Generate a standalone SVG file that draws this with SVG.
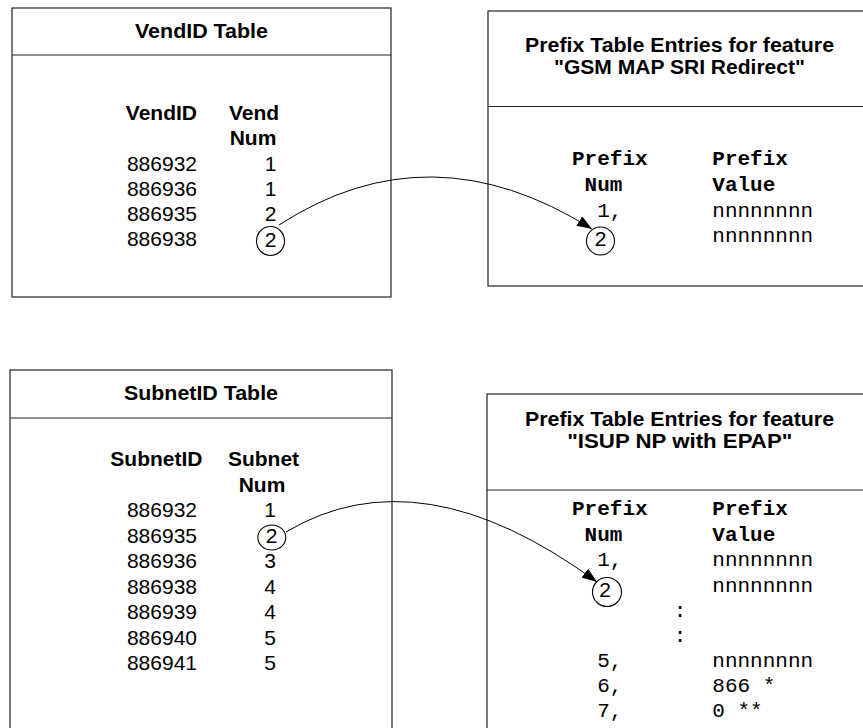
<svg xmlns="http://www.w3.org/2000/svg" width="863" height="728" viewBox="0 0 863 728">
<defs>
<style>
.box{fill:#fff;stroke:#222;stroke-width:1.2}
.sep{stroke:#222;stroke-width:1.2}
.t{font-family:"Liberation Sans",Arial,sans-serif;font-size:21px;fill:#000}
.b{font-weight:bold}
.m{font-family:"Liberation Mono","Courier New",monospace;font-size:21px;fill:#000}
.mid{text-anchor:middle}
.end{text-anchor:end}
.ring{fill:none;stroke:#000;stroke-width:1.1}
.conn{fill:none;stroke:#000;stroke-width:1}
</style>
<marker id="arr" viewBox="0 0 15 11" refX="15" refY="5.5" markerWidth="15" markerHeight="11" markerUnits="userSpaceOnUse" orient="auto">
<path d="M0,0 L15,5.5 L0,11 z" fill="#000"/>
</marker>
</defs>
<rect width="863" height="728" fill="#fff"/>

<g id="vendid-table">
<rect class="box" x="12" y="8" width="379" height="289"/>
<line class="sep" x1="12" y1="55" x2="391" y2="55"/>
<text class="t b mid" x="201.5" y="38" textLength="133" lengthAdjust="spacingAndGlyphs">VendID Table</text>
<text class="t b end" x="197" y="120">VendID</text>
<text class="t b mid" x="254" y="120">Vend</text>
<text class="t b mid" x="253" y="145">Num</text>
<text class="t end" x="197" y="171">886932</text>
<text class="t end" x="197" y="196">886936</text>
<text class="t end" x="197" y="221">886935</text>
<text class="t end" x="197" y="246">886938</text>
<text class="t mid" x="270.5" y="171">1</text>
<text class="t mid" x="270.5" y="196">1</text>
<text class="t mid" x="270.5" y="221">2</text>
<text class="t mid" x="270.5" y="247">2</text>
<ellipse class="ring" cx="270.5" cy="241" rx="14" ry="14.5"/>
</g>

<g id="prefix-gsm">
<rect class="box" x="488" y="11" width="383" height="275"/>
<line class="sep" x1="488" y1="106.5" x2="871" y2="106.5"/>
<text class="t b mid" x="679.5" y="52" textLength="309" lengthAdjust="spacingAndGlyphs">Prefix Table Entries for feature</text>
<text class="t b mid" x="679.5" y="74" textLength="251" lengthAdjust="spacingAndGlyphs">"GSM MAP SRI Redirect"</text>
<text class="m b" x="572" y="165">Prefix</text>
<text class="m b" x="584.6" y="191">Num</text>
<text class="m" x="597.2" y="217">1,</text>
<text class="m b" x="712.3" y="165">Prefix</text>
<text class="m b" x="712.3" y="191">Value</text>
<text class="m" x="712.3" y="217">nnnnnnnn</text>
<text class="m" x="712.3" y="242">nnnnnnnn</text>
<text class="t mid" x="600.5" y="246">2</text>
<circle class="ring" cx="600.5" cy="241" r="14"/>
</g>

<g id="subnetid-table">
<rect class="box" x="10" y="370" width="382" height="370"/>
<line class="sep" x1="10" y1="418" x2="392" y2="418"/>
<text class="t b mid" x="201" y="400" textLength="154" lengthAdjust="spacingAndGlyphs">SubnetID Table</text>
<text class="t b end" x="202.5" y="466">SubnetID</text>
<text class="t b mid" x="263.5" y="466">Subnet</text>
<text class="t b mid" x="262" y="491.5">Num</text>
<text class="t end" x="197" y="517">886932</text>
<text class="t end" x="197" y="542.5">886935</text>
<text class="t end" x="197" y="568">886936</text>
<text class="t end" x="197" y="593.5">886938</text>
<text class="t end" x="197" y="619">886939</text>
<text class="t end" x="197" y="644.5">886940</text>
<text class="t end" x="197" y="670">886941</text>
<text class="t mid" x="270" y="517">1</text>
<text class="t mid" x="271.5" y="543">2</text>
<text class="t mid" x="270" y="568">3</text>
<text class="t mid" x="270" y="593.5">4</text>
<text class="t mid" x="270" y="619">4</text>
<text class="t mid" x="270" y="644.5">5</text>
<text class="t mid" x="270" y="670">5</text>
<ellipse class="ring" cx="271.8" cy="537.5" rx="14" ry="12.5"/>
</g>

<g id="prefix-isup">
<rect class="box" x="487" y="394" width="384" height="346"/>
<line class="sep" x1="487" y1="490" x2="871" y2="490"/>
<text class="t b mid" x="679.5" y="426" textLength="309" lengthAdjust="spacingAndGlyphs">Prefix Table Entries for feature</text>
<text class="t b mid" x="679.8" y="448" textLength="225" lengthAdjust="spacingAndGlyphs">"ISUP NP with EPAP"</text>
<text class="m b" x="572" y="515">Prefix</text>
<text class="m b" x="584.6" y="540.5">Num</text>
<text class="m" x="597.2" y="566">1,</text>
<text class="m b" x="712.3" y="515">Prefix</text>
<text class="m b" x="712.3" y="540.5">Value</text>
<text class="m" x="712.3" y="566">nnnnnnnn</text>
<text class="m" x="712.3" y="591.5">nnnnnnnn</text>
<text class="t mid" x="605" y="597">2</text>
<circle class="ring" cx="607" cy="592" r="14.5"/>
<text class="m mid" x="680" y="616.5">:</text>
<text class="m mid" x="680" y="641.5">:</text>
<text class="m" x="597.2" y="667">5,</text>
<text class="m" x="597.2" y="692">6,</text>
<text class="m" x="597.2" y="717">7,</text>
<text class="m" x="712.3" y="667">nnnnnnnn</text>
<text class="m" x="712.3" y="692">866 *</text>
<text class="m" x="712.3" y="717">0 **</text>
</g>

<g id="connectors">
<path class="conn" d="M279,225 Q430,127 592,229" marker-end="url(#arr)"/>
<path class="conn" d="M286,532 Q420,452 597,582" marker-end="url(#arr)"/>
</g>
</svg>
